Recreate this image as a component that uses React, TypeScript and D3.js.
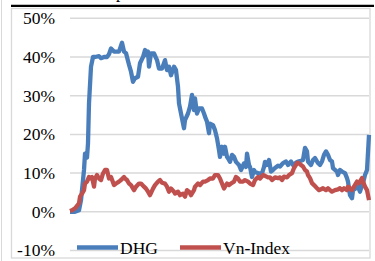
import { useEffect, useRef } from 'react'
import * as d3 from 'd3'

// trading day index, cumulative return (%)
const DHG: [number, number][] = [
  [0, 0], [5, 0], [9, 0.4], [11, 3], [14, 10.8], [15, 15], [17, 14], [18, 17.7], [19, 28],
  [21, 37.5], [23, 40], [25, 40], [29, 40.2], [31, 39.7], [34, 40], [37, 40], [39, 40.7],
  [41, 42.2], [44, 41.4], [47, 41.4], [49, 41.4], [52, 43.7], [54, 41.4], [56, 41], [59, 38],
  [61, 36.2], [63, 33.6], [65, 34.5], [68, 34.9], [70, 38.4], [73, 40], [75, 41.8], [76, 40.5],
  [78, 41.4], [79, 37.5], [81, 40.9], [84, 40.9], [87, 39.2], [89, 37], [92, 37], [95, 39.2],
  [97, 36.6], [99, 37.5], [101, 35.3], [104, 37.5], [106, 36.6], [108, 32.3], [109, 28],
  [111, 25.4], [114, 21.6], [115, 23.7], [118, 25.4], [120, 27.2], [122, 30.2], [124, 26.3],
  [125, 29.3], [127, 25.4], [129, 26.7], [132, 26.7], [134, 25.4], [135, 24.6], [137, 23.3],
  [139, 20.3], [140, 22.8], [143, 22.4], [145, 21.1], [147, 19], [149, 15.9], [150, 14.2],
  [152, 16.8], [154, 15], [155, 16.8], [157, 14.2], [159, 13.4], [160, 12.9], [162, 14.7],
  [164, 14.2], [166, 12.9], [169, 12.1], [171, 10.8], [174, 12.5], [176, 11.6], [177, 15],
  [179, 12.1], [180, 11.6], [182, 9], [184, 10.8], [185, 10.3], [189, 9.9], [192, 9.9],
  [194, 11.6], [195, 12.9], [197, 12.1], [199, 13.4], [201, 10.4], [203, 10.8], [205, 11.3],
  [208, 11.9], [210, 11.7], [213, 12.6], [216, 13], [218, 12.1], [221, 13], [223, 12.1],
  [226, 12.7], [228, 13], [231, 13.2], [233, 13.4], [235, 16.5], [237, 15.6], [238, 13],
  [241, 12.1], [243, 13.4], [245, 13.9], [248, 12.6], [250, 12.1], [252, 13], [254, 14.7],
  [256, 15.6], [258, 14.7], [260, 13.4], [262, 13], [263, 11.3], [267, 10.4], [268, 9.5],
  [270, 10.8], [272, 10.4], [275, 10], [277, 8.7], [278, 7.8], [280, 4.3], [282, 3.5],
  [283, 5.6], [286, 6.1], [288, 6.5], [290, 5.2], [292, 6.9], [293, 7.4], [295, 9.5],
  [297, 10.8], [299, 19.9],
]

const VNINDEX: [number, number][] = [
  [0, 0.2], [2, 0.4], [5, 0.9], [7, 1.5], [9, 2.2], [10, 3.9], [12, 4.7], [14, 5.6], [15, 7.3],
  [17, 7.8], [19, 9], [20, 8.6], [22, 9], [24, 6.5], [25, 8.6], [27, 9.5], [29, 8.6], [31, 8.2],
  [33, 9.9], [35, 10.8], [37, 10.8], [39, 8.6], [41, 9], [44, 6.9], [46, 7.3], [49, 7.8],
  [51, 8.2], [54, 9], [55, 8.6], [57, 8.2], [59, 7.3], [61, 6.9], [64, 5.6], [66, 6.5],
  [69, 7.3], [71, 7.3], [74, 6.5], [76, 6], [78, 5.2], [80, 4.3], [83, 6], [85, 6.9], [88, 7.8],
  [90, 8.2], [92, 7.5], [95, 7.3], [97, 6.5], [99, 5.2], [101, 6], [104, 5.2], [105, 4.7],
  [108, 5.2], [110, 4.3], [113, 4.7], [115, 3.9], [117, 5.6], [119, 5.2], [121, 4.3],
  [124, 5.6], [125, 6.5], [128, 7.3], [130, 6.9], [133, 7.8], [135, 7.8], [138, 8.2],
  [140, 8.6], [143, 8.6], [145, 9.5], [148, 9.5], [150, 8.6], [152, 7.3], [154, 6], [155, 6.5],
  [157, 7.3], [159, 6.9], [161, 7.3], [164, 7.8], [166, 9], [168, 8.6], [170, 7.8], [173, 7.8],
  [175, 8.2], [178, 7.8], [180, 7.3], [183, 6.9], [185, 8.2], [188, 9], [190, 8.6], [193, 9.5],
  [195, 9.3], [198, 8.9], [200, 8.9], [202, 8.2], [205, 8.9], [208, 8.7], [210, 8.9],
  [212, 8.2], [214, 9.1], [217, 8.9], [219, 9.5], [222, 10], [224, 11.3], [227, 12.6],
  [228, 12.7], [231, 12.1], [233, 11.7], [235, 10.8], [237, 10.4], [238, 9.5], [240, 8.7],
  [242, 7.4], [244, 6.9], [247, 6.1], [249, 5.6], [251, 5.8], [253, 6.1], [256, 5.6],
  [258, 6.1], [260, 5.6], [262, 5.2], [265, 5.6], [268, 5.8], [270, 6.1], [272, 5.6],
  [274, 6.1], [277, 5.6], [278, 6.5], [280, 6.1], [282, 5.6], [284, 6.5], [287, 7.8],
  [289, 7.4], [292, 8.7], [293, 7.8], [295, 6.5], [297, 5.6], [299, 3],
]

const Y_TICKS = [-10, 0, 10, 20, 30, 40, 50]

const SERIES = [
  { name: 'DHG', data: DHG, color: '#4a7ebb' },
  { name: 'Vn-Index', data: VNINDEX, color: '#c0504d' },
]

const FONT = '"Liberation Serif", "Times New Roman", serif'

export default function App() {
  const svgRef = useRef<SVGSVGElement>(null)

  useEffect(() => {
    if (!svgRef.current) return
    const svg = d3.select(svgRef.current)
    svg.selectAll('*').remove()

    const width = 375
    const height = 261

    const x = d3.scaleLinear().domain([0, 299]).range([70, 369])
    const y = d3.scaleLinear().domain([-10, 50]).range([250.5, 18.3])

    svg.append('rect').attr('width', width).attr('height', height).attr('fill', '#fff')

    // outer page edge + black rule from the page above
    svg.append('line')
      .attr('x1', 1.5).attr('x2', 1.5).attr('y1', 0).attr('y2', height)
      .attr('stroke', '#d9d9d9').attr('stroke-width', 1)
    svg.append('line')
      .attr('x1', 11).attr('x2', 374).attr('y1', 5.8).attr('y2', 5.8)
      .attr('stroke', '#000').attr('stroke-width', 2.2)
    // tail of the caption above, cut by the crop
    svg.append('text')
      .attr('x', 116).attr('y', -2.5)
      .attr('font-family', FONT).attr('font-size', 17)
      .text('p')

    // chart frame
    svg.append('rect')
      .attr('x', 11.5).attr('y', 8.5).attr('width', 358.5).attr('height', 249.5)
      .attr('fill', 'none').attr('stroke', '#d9d9d9').attr('stroke-width', 1.3)

    const g = svg.append('g')

    g.append('g')
      .selectAll('line')
      .data(Y_TICKS)
      .join('line')
      .attr('x1', 70).attr('x2', 369)
      .attr('y1', d => y(d)).attr('y2', d => y(d))
      .attr('stroke', '#d9d9d9').attr('stroke-width', 1.5)

    g.append('g')
      .selectAll('text')
      .data(Y_TICKS)
      .join('text')
      .attr('x', 55)
      .attr('y', d => y(d))
      .attr('dy', '0.34em')
      .attr('text-anchor', 'end')
      .attr('font-family', FONT)
      .attr('font-size', 17.5)
      .attr('fill', '#000')
      .text(d => `${d}%`)

    const line = d3.line<[number, number]>()
      .x(d => x(d[0]))
      .y(d => y(d[1]))
      .curve(d3.curveLinear)

    SERIES.forEach(s => {
      g.append('path')
        .datum(s.data)
        .attr('d', line)
        .attr('fill', 'none')
        .attr('stroke', s.color)
        .attr('stroke-width', 4.3)
        .attr('stroke-linejoin', 'round')
    })

    // Legend
    const legendX = [77, 180]
    const legend = g.append('g')
    SERIES.forEach((s, i) => {
      legend.append('line')
        .attr('x1', legendX[i]).attr('x2', legendX[i] + 41)
        .attr('y1', 247.5).attr('y2', 247.5)
        .attr('stroke', s.color).attr('stroke-width', 4.3)
      legend.append('text')
        .attr('x', legendX[i] + 43)
        .attr('y', 254)
        .attr('font-family', FONT)
        .attr('font-size', 17.5)
        .attr('fill', '#000')
        .text(s.name)
    })
  }, [])

  return (
    <div style={{ position: 'absolute', left: 0, top: 0 }}>
      <svg ref={svgRef} width={375} height={261} style={{ display: 'block' }} />
    </div>
  )
}
